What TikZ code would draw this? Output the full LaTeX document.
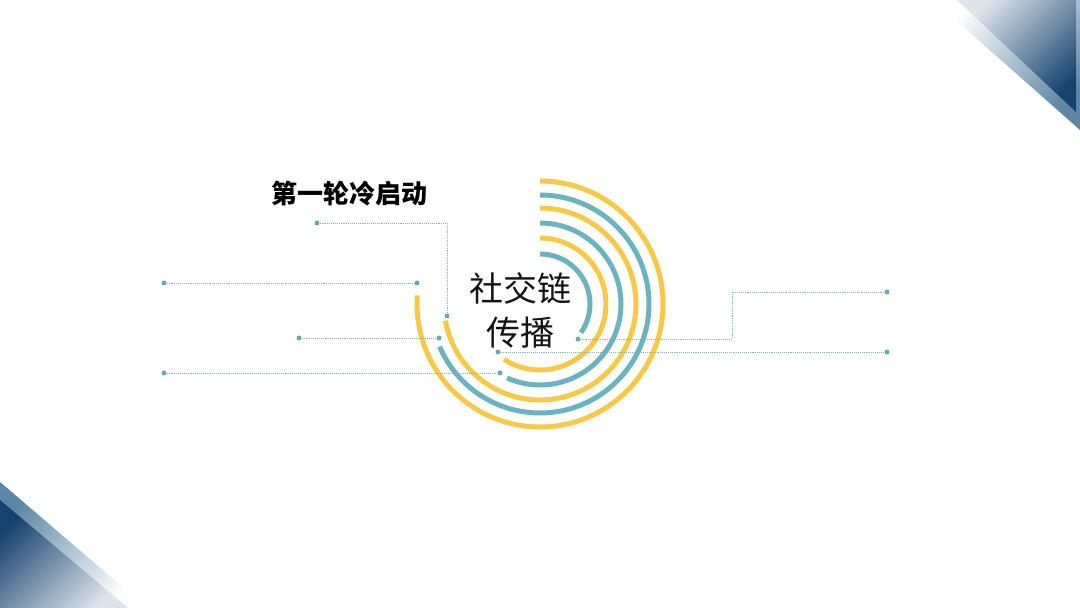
\documentclass[tikz,border=0pt]{standalone}
\usepackage{fontspec}
\usepackage{xcolor}
\usepackage{tikz}
\usetikzlibrary{positioning, calc}
\newfontfamily\cjk{Noto Sans CJK SC}
\definecolor{ringyellow}{HTML}{F9C846}
\definecolor{ringteal}{HTML}{6AB4C0}
\definecolor{pinteal}{HTML}{6AA8B4}
\definecolor{deepnavy}{HTML}{16426E}
\definecolor{steelband}{HTML}{5C86A3}

\begin{document}
\begin{tikzpicture}[
    x=1pt, y=1pt,
    ring/.style={line width=5pt, line cap=butt},
    pin/.style={circle, fill=pinteal, inner sep=0pt, minimum size=5pt},
    leader/.style={draw=pinteal!85, line width=0.9pt, densely dotted},
    title/.style={font=\cjk\bfseries\fontsize{26}{30}\selectfont, text=black},
    core/.style={font=\cjk\fontsize{34}{44}\selectfont, text=black!92, align=center}
]
\useasboundingbox (0,0) rectangle (1080,608);

% corner triangles
\shade[top color=white, bottom color=steelband, shading angle=45] (933,608) -- (1080,608) -- (1080,478) -- cycle;
\shade[top color=white!85!deepnavy, bottom color=deepnavy, shading angle=45] (957,608) -- (1076,608) -- (1076,496) -- cycle;
\shade[top color=steelband, bottom color=white, shading angle=45] (0,126) -- (0,0) -- (147,0) -- cycle;
\shade[top color=deepnavy, bottom color=white!85!deepnavy, shading angle=45] (0,108) -- (0,0) -- (128,0) -- cycle;

% rings
\coordinate (ctr) at (540,304);
\foreach \r/\e/\c in {123/-184/ringyellow, 109/-157/ringteal, 96/-170/ringyellow, 81/-114/ringteal, 66/-123/ringyellow, 50/-35/ringteal}
    \draw[ring, \c] (ctr) ++(0,\r) arc[start angle=90, end angle=\e, radius=\r];

% pins
\node[pin] (p1a) at (317,385) {};
\node[pin] (p1b) at (447,292) {};
\node[pin] (p2a) at (164,325) {};
\node[pin] (p2b) at (417,325) {};
\node[pin] (p3a) at (299,270) {};
\node[pin] (p3b) at (439,270) {};
\node[pin] (p4a) at (164,235) {};
\node[pin] (p4b) at (500,235) {};
\node[pin] (p5a) at (498,256) {};
\node[pin] (p5b) at (887,256) {};
\node[pin] (p6a) at (578,269) {};
\node[pin] (p6b) at (887,316) {};

% leaders
\draw[leader] (p1a) -| (p1b);
\draw[leader] (p2a) -- (p2b);
\draw[leader] (p3a) -- (p3b);
\draw[leader] (p4a) -- (p4b);
\draw[leader] (p5a) -- (p5b);
\draw[leader] (p6a) -- (732,269) |- (p6b);

% labels
\node[title] (round) at (349,414) {第一轮冷启动};
\node[core] (social) at (520,298) {社交链\\传播};

\end{tikzpicture}
\end{document}
